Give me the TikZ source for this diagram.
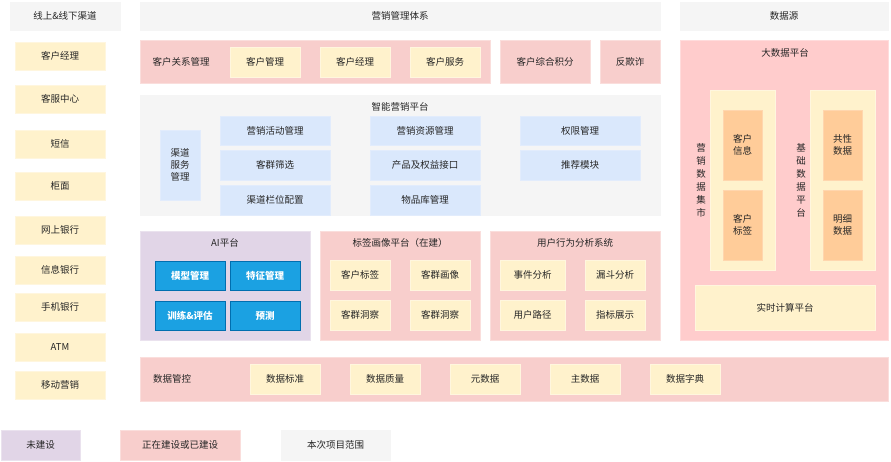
\documentclass[tikz,border=0pt]{standalone}
\usepackage{fontspec}
\setmainfont{Noto Sans CJK SC}
\begin{document}
\begin{tikzpicture}[x=1pt,y=-1pt,
 base/.style={draw,line width=0.8pt,inner sep=0pt,align=center,font=\fontsize{9.5}{12}\selectfont,text=black!85},
 gray/.style={base,fill=black!4,draw=black!4},
 pink/.style={base,fill={rgb,255:red,248;green,206;blue,204},draw={rgb,255:red,250;green,222;blue,220}},
 pinkb/.style={base,fill={rgb,255:red,255;green,204;blue,204},draw={rgb,255:red,255;green,220;blue,220}},
 yel/.style={base,fill={rgb,255:red,255;green,242;blue,204},draw={rgb,255:red,255;green,246;blue,222}},
 blu/.style={base,fill={rgb,255:red,218;green,232;blue,252},draw={rgb,255:red,226;green,236;blue,252}},
 pur/.style={base,fill={rgb,255:red,225;green,213;blue,231},draw={rgb,255:red,234;green,226;blue,238}},
 org/.style={base,fill={rgb,255:red,255;green,204;blue,153},draw={rgb,255:red,255;green,214;blue,174}},
 ai/.style={base,fill={rgb,255:red,27;green,161;blue,226},draw={rgb,255:red,0;green,110;blue,175},text=white,font=\fontsize{9.5}{12}\selectfont\bfseries},
 lbl/.style={inner sep=0pt,font=\fontsize{9.5}{12}\selectfont,text=black!85,align=center}]
\newcommand\Bx[7]{\node[#2,minimum width={#5-#3},minimum height={#6-#4}] (#1) at ({(#3+#5)/2},{(#4+#6)/2}) {#7};}
\useasboundingbox (0,0) rectangle (891,461);
% headers
\Bx{h1}{gray}{10}{2}{120}{30}{线上\&线下渠道}
\Bx{h2}{gray}{140}{2}{660}{30}{营销管理体系}
\Bx{h3}{gray}{680}{2}{888}{30}{数据源}
% left column
\Bx{c1}{yel}{15}{42}{105}{70}{客户经理}
\Bx{c2}{yel}{15}{85}{105}{113}{客服中心}
\Bx{c3}{yel}{15}{130}{105}{158}{短信}
\Bx{c4}{yel}{15}{172}{105}{200}{柜面}
\Bx{c5}{yel}{15}{216}{105}{244}{网上银行}
\Bx{c6}{yel}{15}{256}{105}{284}{信息银行}
\Bx{c7}{yel}{15}{293}{105}{321}{手机银行}
\Bx{c8}{yel}{15}{333}{105}{361}{ATM}
\Bx{c9}{yel}{15}{371}{105}{399}{移动营销}
% CRM row
\Bx{crm}{pink}{140}{40}{490}{83}{}
\node[lbl] (crmt) at (181,61.5) {客户关系管理};
\Bx{r1}{yel}{230}{47}{300}{77}{客户管理}
\Bx{r2}{yel}{320}{47}{390}{77}{客户经理}
\Bx{r3}{yel}{410}{47}{480}{77}{客户服务}
\Bx{r4}{pink}{500}{40}{590}{83}{客户综合积分}
\Bx{r5}{pink}{600}{40}{660}{83}{反欺诈}
% smart marketing platform
\Bx{smp}{gray}{140}{95}{660}{215}{}
\node[lbl] (smpt) at (400,107) {智能营销平台};
\Bx{s0}{blu}{160}{130}{200}{200}{渠道\\服务\\管理}
\Bx{s1}{blu}{220}{116}{330}{145}{营销活动管理}
\Bx{s2}{blu}{220}{150}{330}{180}{客群筛选}
\Bx{s3}{blu}{220}{185}{330}{215}{渠道栏位配置}
\Bx{s4}{blu}{370}{116}{480}{145}{营销资源管理}
\Bx{s5}{blu}{370}{150}{480}{180}{产品及权益接口}
\Bx{s6}{blu}{370}{185}{480}{215}{物品库管理}
\Bx{s7}{blu}{520}{116}{640}{145}{权限管理}
\Bx{s8}{blu}{520}{150}{640}{180}{推荐模块}
% AI
\Bx{aip}{pur}{140}{231}{310}{340}{}
\node[lbl] (ait) at (225,243) {AI平台};
\Bx{a1}{ai}{155}{261}{225}{290}{模型管理}
\Bx{a2}{ai}{230}{261}{300}{290}{特征管理}
\Bx{a3}{ai}{155}{301}{225}{330}{训练\&评估}
\Bx{a4}{ai}{230}{301}{300}{330}{预测}
% tag platform
\Bx{tp}{pink}{320}{231}{480}{340}{}
\node[lbl] (tpt) at (400,243) {标签画像平台（在建）};
\Bx{t1}{yel}{330}{260}{390}{290}{客户标签}
\Bx{t2}{yel}{410}{260}{470}{290}{客群画像}
\Bx{t3}{yel}{330}{300}{390}{330}{客群洞察}
\Bx{t4}{yel}{410}{300}{470}{330}{客群洞察}
% user behaviour
\Bx{ub}{pink}{490}{231}{660}{340}{}
\node[lbl] (ubt) at (575,243) {用户行为分析系统};
\Bx{u1}{yel}{500}{260}{565}{290}{事件分析}
\Bx{u2}{yel}{585}{260}{645}{290}{漏斗分析}
\Bx{u3}{yel}{500}{300}{565}{330}{用户路径}
\Bx{u4}{yel}{585}{300}{645}{330}{指标展示}
% big data
\Bx{bd}{pinkb}{680}{40}{888}{340}{}
\node[lbl] (bdt) at (785,53) {大数据平台};
\Bx{m0}{yel}{710}{90}{775}{270}{}
\node[lbl,font=\fontsize{9.5}{13}\selectfont] (m0t) at (701,180) {营\\销\\数\\据\\集\\市};
\Bx{m1}{org}{723}{110}{762}{180}{客户\\信息}
\Bx{m2}{org}{723}{190}{762}{260}{客户\\标签}
\Bx{b0}{yel}{810}{90}{875}{270}{}
\node[lbl,font=\fontsize{9.5}{13}\selectfont] (b0t) at (801,180) {基\\础\\数\\据\\平\\台};
\Bx{b1}{org}{823}{110}{862}{180}{共性\\数据}
\Bx{b2}{org}{823}{190}{862}{260}{明细\\数据}
\Bx{rt}{yel}{695}{285}{875}{330}{实时计算平台}
% data governance
\Bx{dg}{pink}{140}{357}{888}{401}{}
\node[lbl] (dgt) at (172,379) {数据管控};
\Bx{d1}{yel}{250}{364}{320}{394}{数据标准}
\Bx{d2}{yel}{350}{364}{420}{394}{数据质量}
\Bx{d3}{yel}{450}{364}{520}{394}{元数据}
\Bx{d4}{yel}{550}{364}{620}{394}{主数据}
\Bx{d5}{yel}{650}{364}{720}{394}{数据字典}
% legend
\Bx{l1}{pur}{1}{430}{80}{460}{未建设}
\Bx{l2}{pink}{120}{430}{240}{460}{正在建设或已建设}
\Bx{l3}{gray}{281}{430}{390}{460}{本次项目范围}
\end{tikzpicture}
\end{document}
